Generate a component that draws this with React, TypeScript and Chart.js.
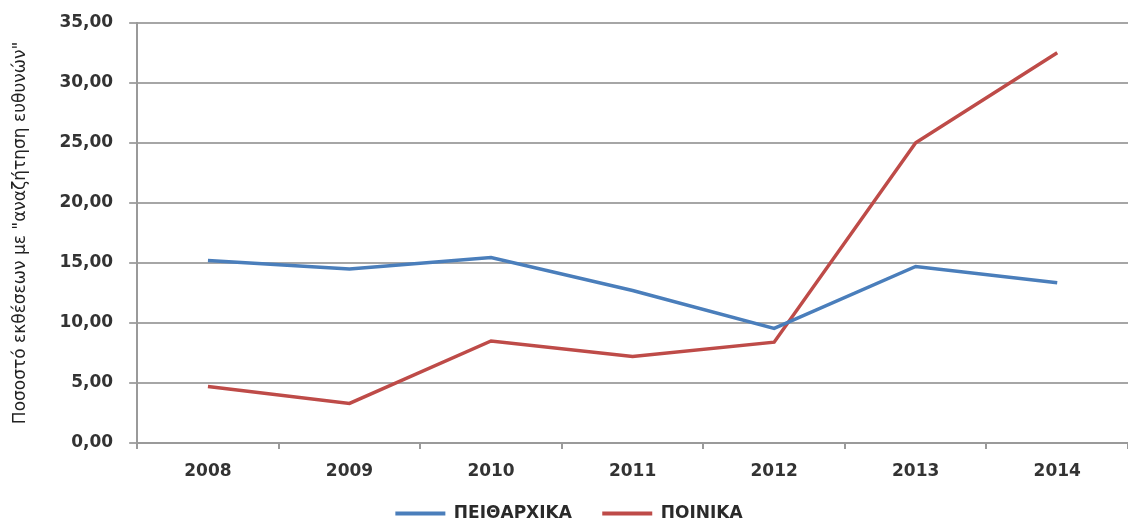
import React, { useEffect, useRef } from "react";
import { Chart, registerables } from "chart.js";

Chart.register(...registerables);

const years = ["2008", "2009", "2010", "2011", "2012", "2013", "2014"];
const disciplinary = [15.2, 14.5, 15.45, 12.7, 9.55, 14.7, 13.35];
const criminal = [4.7, 3.3, 8.5, 7.2, 8.4, 25.0, 32.5];
const seriesNames = ["ΠΕΙΘΑΡΧΙΚΑ", "ΠΟΙΝΙΚΑ"];
const yTitle = "Ποσοστό εκθέσεων με \"αναζήτηση ευθυνών\"";

export default function App() {
  const ref = useRef<HTMLCanvasElement>(null);
  useEffect(() => {
    if (!ref.current) return;
    const font = "'DejaVu Sans', Verdana, sans-serif";
    const chart = new Chart(ref.current, {
      type: "line",
      data: {
        labels: years,
        datasets: [
          {
            label: seriesNames[0],
            data: disciplinary,
            borderColor: "#4a7ebb",
            backgroundColor: "#4a7ebb",
            borderWidth: 3.5,
            pointRadius: 0,
            tension: 0,
          },
          {
            label: seriesNames[1],
            data: criminal,
            borderColor: "#be4b48",
            backgroundColor: "#be4b48",
            borderWidth: 3.5,
            pointRadius: 0,
            tension: 0,
          },
        ],
      },
      options: {
        animation: false,
        responsive: false,
        maintainAspectRatio: false,
        layout: { padding: { top: 3, right: 0, left: 10, bottom: -12 } },
        plugins: {
          tooltip: { enabled: false },
          legend: {
            position: "bottom",
            labels: {
              boxWidth: 50,
              boxHeight: 4,
              color: "#2a2a2a",
              padding: 10,
              font: { family: font, size: 17, weight: "bold" },
              generateLabels: (c: any) => {
                const items = Chart.defaults.plugins.legend.labels.generateLabels(c);
                return items.map((it: any, i: number) => ({
                  ...it,
                  lineWidth: 0,
                  text: i < items.length - 1 ? it.text + "\u2003\u2009" : it.text,
                }));
              },
            },
          },
        },
        scales: {
          x: {
            offset: true,
            grid: {
              offset: true,
              drawOnChartArea: false,
              tickLength: 6,
              color: "#9a9a9a",
              lineWidth: 2,
            },
            border: { color: "#9a9a9a", width: 2 },
            ticks: {
              color: "#333",
              padding: 23,
              font: { family: font, size: 17, weight: "bold", lineHeight: 0 },
            },
          },
          y: {
            min: 0,
            max: 35,
            ticks: {
              stepSize: 5,
              color: "#333",
              padding: 16,
              font: { family: font, size: 17, weight: "bold", lineHeight: 0.8 },
              callback: (v: any) => Number(v).toFixed(2).replace(".", ","),
            },
            grid: {
              color: "#a6a6a6",
              lineWidth: 2,
              tickLength: 8,
            },
            border: { color: "#9a9a9a", width: 2 },
            title: {
              display: true,
              text: yTitle,
              color: "#222",
              padding: { top: 0, bottom: 13 },
              font: { family: font, size: 17 },
            },
          },
        },
      },
    });
    return () => chart.destroy();
  }, []);
  return (
    <div style={{ position: "fixed", left: 0, top: 0, width: 1128, height: 520, background: "#fff" }}>
      <canvas ref={ref} width={1128} height={520} style={{ width: 1128, height: 520 }} />
    </div>
  );
}
